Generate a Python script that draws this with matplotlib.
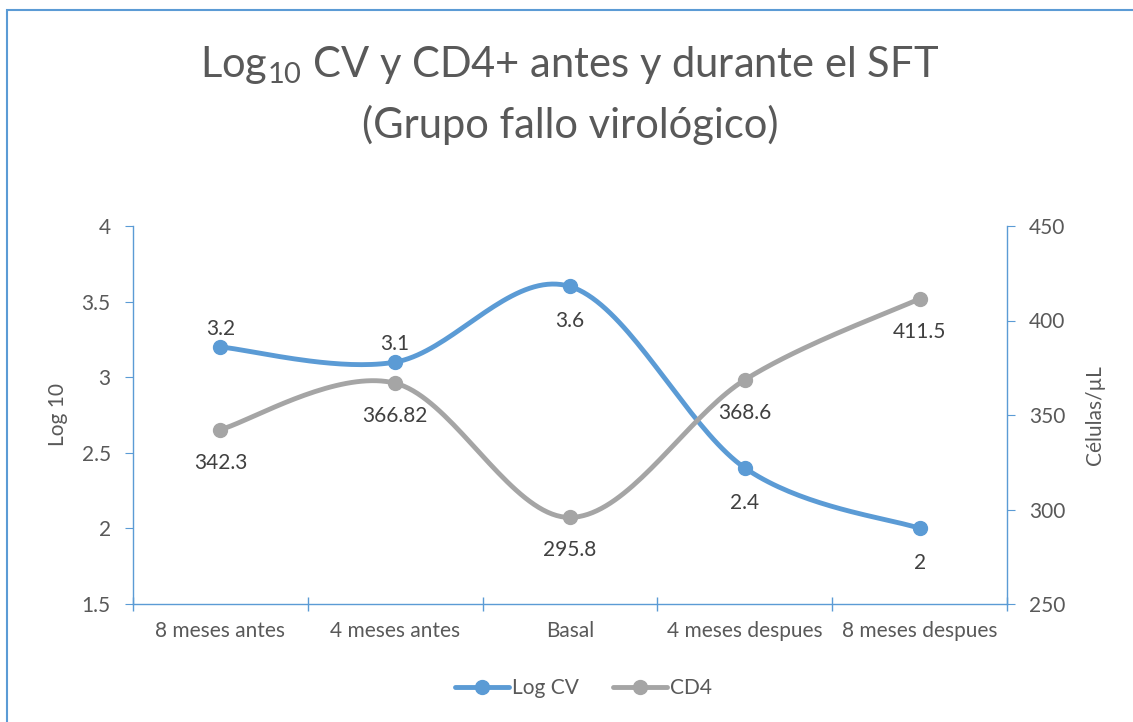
import numpy as np
import matplotlib
matplotlib.use("Agg")
import matplotlib.pyplot as plt
from matplotlib.patches import Rectangle

plt.rcParams['font.family'] = ['Lato', 'DejaVu Sans']
plt.rcParams['mathtext.fontset'] = 'custom'
plt.rcParams['mathtext.rm'] = 'Lato'

# data
categories = ["8 meses antes", "4 meses antes", "Basal", "4 meses despues", "8 meses despues"]
log_cv = [3.2, 3.1, 3.6, 2.4, 2.0]
cd4 = [342.3, 366.82, 295.8, 368.6, 411.5]
log_cv_labels = ["3.2", "3.1", "3.6", "2.4", "2"]
cd4_labels = ["342.3", "366.82", "295.8", "368.6", "411.5"]
log_cv_above = [True, True, False, False, False]

BLUE = "#5B9BD5"
GRAY = "#A5A5A5"
TXT = "#595959"
LBL = "#404040"
FS = 15


def smooth(x, y, n=40):
    # bezier smoothing like the spreadsheet "smoothed line"
    x = np.asarray(x, float)
    y = np.asarray(y, float)
    px = np.concatenate([[x[0]], x, [x[-1]]])
    py = np.concatenate([[y[0]], y, [y[-1]]])
    t = np.linspace(0, 1, n)
    xs, ys = [], []
    for i in range(len(x) - 1):
        p0 = np.array([px[i + 1], py[i + 1]])
        p3 = np.array([px[i + 2], py[i + 2]])
        c1 = p0 + (np.array([px[i + 2], py[i + 2]]) - np.array([px[i], py[i]])) / 6
        c2 = p3 - (np.array([px[i + 3], py[i + 3]]) - np.array([px[i + 1], py[i + 1]])) / 6
        b = ((1 - t) ** 3)[:, None] * p0 + (3 * (1 - t) ** 2 * t)[:, None] * c1 \
            + (3 * (1 - t) * t ** 2)[:, None] * c2 + (t ** 3)[:, None] * p3
        xs.append(b[:, 0])
        ys.append(b[:, 1])
    return np.concatenate(xs), np.concatenate(ys)


fig = plt.figure(figsize=(11.33, 7.22), dpi=100)
fig.patches.append(Rectangle((7 / 1133, -0.01), 1.2, 1 - 10 / 722 + 0.01, transform=fig.transFigure,
                             fill=False, edgecolor=BLUE, linewidth=1.5))

ax = fig.add_axes([133 / 1133, 1 - 604 / 722, 874 / 1133, 378 / 722])
ax2 = ax.twinx()

x = np.arange(len(categories))

sx, sy = smooth(x, log_cv)
l1, = ax.plot(sx, sy, color=BLUE, lw=3.5, solid_capstyle='round', zorder=3)
ax.plot(x, log_cv, 'o', color=BLUE, ms=10, zorder=4)

# cd4 smoothing done in primary axis units so the shape matches screen space
cd4_scaled = [1.5 + (v - 250) / 200 * 2.5 for v in cd4]
cx, cy = smooth(x, cd4_scaled)
cy = 250 + (cy - 1.5) / 2.5 * 200
l2, = ax2.plot(cx, cy, color=GRAY, lw=3.5, solid_capstyle='round', zorder=3)
ax2.plot(x, cd4, 'o', color=GRAY, ms=10, zorder=4)

for i in range(len(x)):
    off = -18 if log_cv_above[i] else 35
    ax.annotate(log_cv_labels[i], (x[i], log_cv[i]), xytext=(0, -off), textcoords='offset pixels',
                ha='center', va='center', fontsize=FS, color=LBL)
    ax2.annotate(cd4_labels[i], (x[i], cd4[i]), xytext=(0, -33), textcoords='offset pixels',
                 ha='center', va='center', fontsize=FS, color=LBL)

ax.set_xlim(-0.5, 4.5)
ax.set_ylim(1.5, 4)
ax2.set_ylim(250, 450)
ax.set_yticks([1.5, 2, 2.5, 3, 3.5, 4])
ax.set_yticklabels(["1.5", "2", "2.5", "3", "3.5", "4"])
ax2.set_yticks([250, 300, 350, 400, 450])

ax.set_xticks(x)
ax.set_xticklabels(categories)
ax.set_xticks(np.arange(-0.5, 5, 1), minor=True)
ax.tick_params(axis='x', which='major', length=0, pad=12, labelsize=FS, labelcolor=TXT)
ax.tick_params(axis='x', which='minor', length=10, direction='inout', color=BLUE, width=1)
ax.tick_params(axis='y', length=6, color=BLUE, labelsize=FS, labelcolor=TXT, pad=10)
ax2.tick_params(axis='y', length=6, color=BLUE, labelsize=FS, labelcolor=TXT, pad=10)

for a in (ax, ax2):
    a.spines['top'].set_visible(False)
    for s in ('left', 'right', 'bottom'):
        a.spines[s].set_color(BLUE)
        a.spines[s].set_linewidth(1)
ax.spines['right'].set_visible(False)
ax2.spines['left'].set_visible(False)
ax2.spines['bottom'].set_visible(False)

ax.set_ylabel("Log 10", fontsize=FS, color=TXT, labelpad=10)
ax2.set_ylabel("Células/µL", fontsize=FS, color=TXT, labelpad=14)

fig.text(0.503, 1 - 65 / 722, r"Log$_{\mathrm{10}}$ CV y CD4+ antes y durante el SFT",
         ha='center', va='center', fontsize=30, color=TXT)
fig.text(0.503, 1 - 125 / 722, "(Grupo fallo virológico)",
         ha='center', va='center', fontsize=30, color=TXT)

leg = fig.legend([l1, l2], ["Log CV", "CD4"], loc='center', bbox_to_anchor=(0.515, 1 - 688 / 722),
                 ncol=2, frameon=False, fontsize=FS, handlelength=2.6, handletextpad=0.15,
                 columnspacing=1.6, labelcolor=TXT)
for h in leg.legend_handles:
    h.set_marker('o')
    h.set_markersize(10)
    h.set_markevery([1])

fig.savefig("out.png", dpi=100)
